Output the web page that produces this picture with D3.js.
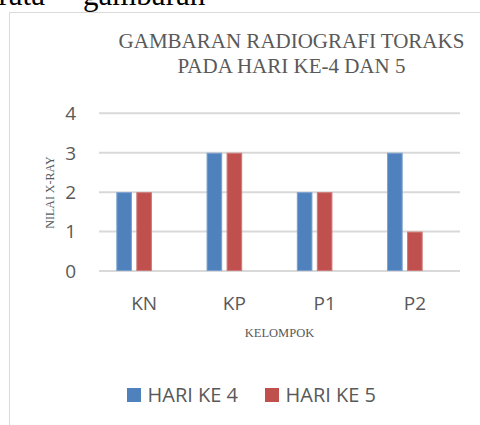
<!DOCTYPE html>
<html>
<head>
<meta charset="utf-8">
<script src="https://cdn.jsdelivr.net/npm/d3@7"></script>
<style>
  html, body { margin: 0; padding: 0; background: #fff; }
  svg { display: block; }
</style>
</head>
<body>
<svg id="chart" width="480" height="425"></svg>
<script>
const categories = ["KN", "KP", "P1", "P2"];
const seriesNames = ["HARI KE 4", "HARI KE 5"];
const hariKe4 = [2, 3, 2, 3];
const hariKe5 = [2, 3, 2, 1];
const yTicks = [0, 1, 2, 3, 4];
const seriesColors = ["#4F81BD", "#C0504D"];
const seriesStrokes = ["#7B9FCE", "#CD7A78"];
const titleLines = ["GAMBARAN RADIOGRAFI TORAKS", "PADA HARI KE-4 DAN 5"];
const yAxisTitle = "NILAI X-RAY";
const xAxisTitle = "KELOMPOK";

const seriesValues = [hariKe4, hariKe5];
const svg = d3.select("#chart");
const textColor = "#595959";
const sans = "'Open Sans', 'Noto Sans', sans-serif";
const serif = "'Liberation Serif', 'DejaVu Serif', serif";

// Fragment of surrounding document text at top (cut off in the reference too)
svg.append("text").attr("x", 45).attr("y", 5).attr("text-anchor", "end")
  .attr("font-family", serif).attr("font-size", 31).attr("fill", "#000").text("rata");
svg.append("text").attr("x", 83).attr("y", 5)
  .attr("font-family", serif).attr("font-size", 31).attr("fill", "#000").text("gambaran");

// Chart frame
svg.append("path").attr("d", "M9.5,426 V12.5 H481")
  .attr("fill", "none").attr("stroke", "#D9D9D9").attr("stroke-width", 1);

// Scales
const x = d3.scaleBand().domain(categories).range([99, 460]).padding(0);
const slotCount = 3; // Excel group layout reserves space for three slots
const groupWidth = 55.6;
const xSub = d3.scaleBand().domain(d3.range(slotCount))
  .range([(x.bandwidth() - groupWidth) / 2, (x.bandwidth() + groupWidth) / 2])
  .paddingInner(0.22).paddingOuter(0);
const y = d3.scaleLinear().domain([0, 4]).range([271, 113.3]);

// Gridlines
svg.append("g").selectAll("line").data(yTicks).join("line")
  .attr("x1", 99).attr("x2", 460)
  .attr("y1", d => y(d)).attr("y2", d => y(d))
  .attr("stroke", "#D9D9D9").attr("stroke-width", 2);

// Y tick labels
svg.append("g").selectAll("text").data(yTicks).join("text")
  .attr("x", 76).attr("y", d => y(d)).attr("dy", "0.36em")
  .attr("text-anchor", "end").attr("font-family", sans).attr("font-size", 19)
  .attr("fill", textColor).text(d => d);

// Bars
const groups = svg.append("g").selectAll("g").data(categories).join("g")
  .attr("transform", c => `translate(${x(c)},0)`);
groups.selectAll("rect")
  .data((c, i) => seriesValues.map((vals, s) => ({ s, v: vals[i] })))
  .join("rect")
  .attr("x", d => xSub(d.s) + 0.5)
  .attr("width", xSub.bandwidth() - 1)
  .attr("y", d => y(d.v) + 0.5)
  .attr("height", d => y(0) - y(d.v) - 1)
  .attr("fill", d => seriesColors[d.s])
  .attr("stroke", d => seriesStrokes[d.s]).attr("stroke-width", 1);

// Category labels
svg.append("g").selectAll("text").data(categories).join("text")
  .attr("x", c => x(c) + x.bandwidth() / 2).attr("y", 310)
  .attr("text-anchor", "middle").attr("font-family", sans).attr("font-size", 19)
  .attr("fill", textColor).text(c => c);

// Title
svg.append("g").selectAll("text").data(titleLines).join("text")
  .attr("x", 291.5).attr("y", (d, i) => 48 + i * 25)
  .attr("text-anchor", "middle").attr("font-family", serif).attr("font-size", 21)
  .attr("fill", textColor).text(d => d);

// Axis titles
svg.append("text").attr("transform", "translate(54,192.5) rotate(-90)")
  .attr("text-anchor", "middle").attr("font-family", serif).attr("font-size", 12)
  .attr("fill", textColor).text(yAxisTitle);
svg.append("text").attr("x", 279.5).attr("y", 337)
  .attr("text-anchor", "middle").attr("font-family", serif).attr("font-size", 12.5)
  .attr("fill", textColor).text(xAxisTitle);

// Legend
const legendX = [127, 265];
const legend = svg.append("g").selectAll("g").data(seriesNames).join("g")
  .attr("transform", (d, i) => `translate(${legendX[i]},388)`);
legend.append("rect").attr("width", 14).attr("height", 14)
  .attr("fill", (d, i) => seriesColors[i]);
legend.append("text").attr("x", 20.5).attr("y", 14)
  .attr("font-family", sans).attr("font-size", 20)
  .attr("fill", textColor).text(d => d);
</script>
</body>
</html>
